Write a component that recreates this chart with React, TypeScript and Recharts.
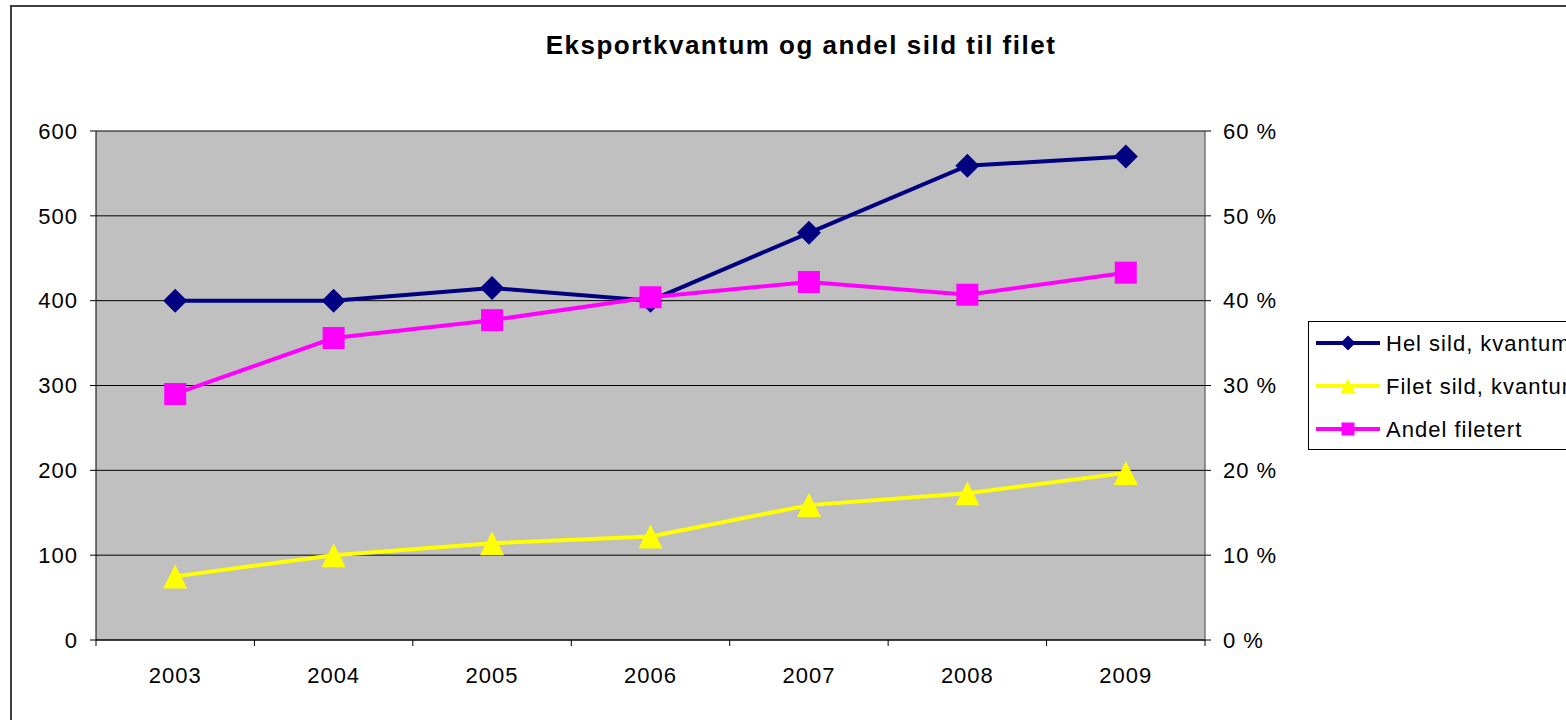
import { LineChart, Line, XAxis, YAxis, CartesianGrid } from "recharts";

const title = "Eksportkvantum og andel sild til filet";
const years = [2003, 2004, 2005, 2006, 2007, 2008, 2009];
const helSild = [400, 400, 415, 400, 480, 559, 570];
const filetSild = [75, 100, 114, 122, 159, 173, 197];
const andelFiletert = [29.0, 35.6, 37.7, 40.4, 42.2, 40.7, 43.3];
const leftTicks = [0, 100, 200, 300, 400, 500, 600];
const rightTicks = [0, 10, 20, 30, 40, 50, 60];
const seriesNames = ["Hel sild, kvantum", "Filet sild, kvantum", "Andel filetert"];
const seriesColors = ["#000080", "#FFFF00", "#FF00FF"];

const FONT = "'Liberation Sans', Arial, sans-serif";

const data = years.map((year, i) => ({
  year,
  hel: helSild[i],
  filet: filetSild[i],
  andel: andelFiletert[i],
}));

// ticks on category borders + label ticks at the centres
const xTicks = [...years.flatMap((y) => [y - 0.5, y]), years[years.length - 1] + 0.5];

function markerPath(kind: string, cx: number, cy: number, s: number) {
  const h = s / 2;
  if (kind === "diamond") return `M${cx},${cy - h}L${cx + h},${cy}L${cx},${cy + h}L${cx - h},${cy}Z`;
  if (kind === "triangle") return `M${cx},${cy - h}L${cx + h},${cy + h}L${cx - h},${cy + h}Z`;
  return `M${cx - h},${cy - h}H${cx + h}V${cy + h}H${cx - h}Z`;
}

const markerKinds = ["diamond", "triangle", "square"];
const markerSizes = [24, 24, 22];

function makeDot(idx: number) {
  return (p: any) => {
    const { cx, cy, index } = p;
    if (cx == null || cy == null) return <g key={`e${idx}-${index}`} />;
    return (
      <path
        key={`m${idx}-${index}`}
        d={markerPath(markerKinds[idx], cx, cy, markerSizes[idx])}
        fill={seriesColors[idx]}
      />
    );
  };
}

const YearTick = (p: any) => {
  const { x, y, payload } = p;
  const v = payload.value;
  if (Number.isInteger(v)) {
    return (
      <text x={x} y={y + 43} textAnchor="middle" fontSize={22} letterSpacing={1} fill="#000" fontFamily={FONT}>
        {v}
      </text>
    );
  }
  return <line x1={x} x2={x} y1={y} y2={y + 6} stroke="#000" />;
};

const tickStyle = { fontSize: 22, fill: "#000", fontFamily: FONT, letterSpacing: 1 };

export default function App() {
  const legendRows = [343, 386, 429];
  return (
    <div style={{ position: "absolute", left: 0, top: 0, width: 1566, height: 720, background: "#fff", overflow: "hidden" }}>
      <LineChart width={1566} height={720} data={data} margin={{ top: 131, right: 0, bottom: 0, left: 0 }}>
        <CartesianGrid yAxisId="left" vertical={false} stroke="#000" fill="#C0C0C0" fillOpacity={1} />
        <XAxis
          dataKey="year"
          type="number"
          domain={[years[0] - 0.5, years[years.length - 1] + 0.5]}
          ticks={xTicks}
          interval={0}
          height={80}
          tickSize={0}
          tickMargin={0}
          tickLine={false}
          axisLine={{ stroke: "#000" }}
          tick={<YearTick />}
        />
        <YAxis
          yAxisId="left"
          width={96}
          domain={[0, 600]}
          ticks={leftTicks}
          interval={0}
          tickSize={6}
          tickMargin={12}
          axisLine={{ stroke: "#000" }}
          tickLine={{ stroke: "#000" }}
          tick={tickStyle}
        />
        <YAxis
          yAxisId="right"
          orientation="right"
          width={361}
          domain={[0, 60]}
          ticks={rightTicks}
          interval={0}
          tickSize={6}
          tickMargin={12}
          tickFormatter={(v: number) => `${v} %`}
          axisLine={{ stroke: "#404040" }}
          tickLine={{ stroke: "#000" }}
          tick={{ ...tickStyle, textAnchor: "start" }}
        />
        <Line yAxisId="left" dataKey="hel" name={seriesNames[0]} stroke={seriesColors[0]} strokeWidth={4} dot={makeDot(0)} isAnimationActive={false} />
        <Line yAxisId="left" dataKey="filet" name={seriesNames[1]} stroke={seriesColors[1]} strokeWidth={4} dot={makeDot(1)} isAnimationActive={false} />
        <Line yAxisId="right" dataKey="andel" name={seriesNames[2]} stroke={seriesColors[2]} strokeWidth={4} dot={makeDot(2)} isAnimationActive={false} />
      </LineChart>
      <svg width={1566} height={720} style={{ position: "absolute", left: 0, top: 0, pointerEvents: "none" }}>
        <rect x={11} y={6} width={1700} height={800} fill="none" stroke="#404040" strokeWidth={2} />
        <text x={801} y={54} textAnchor="middle" fontSize={26} fontWeight="bold" letterSpacing={1.5} fontFamily={FONT} fill="#000">
          {title}
        </text>
        <rect x={1308.5} y={321.5} width={400} height={128} fill="#fff" stroke="#000" strokeWidth={1} />
        {seriesNames.map((name, i) => (
          <g key={name}>
            <line x1={1316} x2={1380} y1={legendRows[i]} y2={legendRows[i]} stroke={seriesColors[i]} strokeWidth={4} />
            <path d={markerPath(markerKinds[i], 1348, legendRows[i], i === 2 ? 13 : 15)} fill={seriesColors[i]} />
            <text x={1386} y={legendRows[i]} dy="0.355em" fontSize={22} letterSpacing={1} fontFamily={FONT} fill="#000">
              {name}
            </text>
          </g>
        ))}
      </svg>
    </div>
  );
}
